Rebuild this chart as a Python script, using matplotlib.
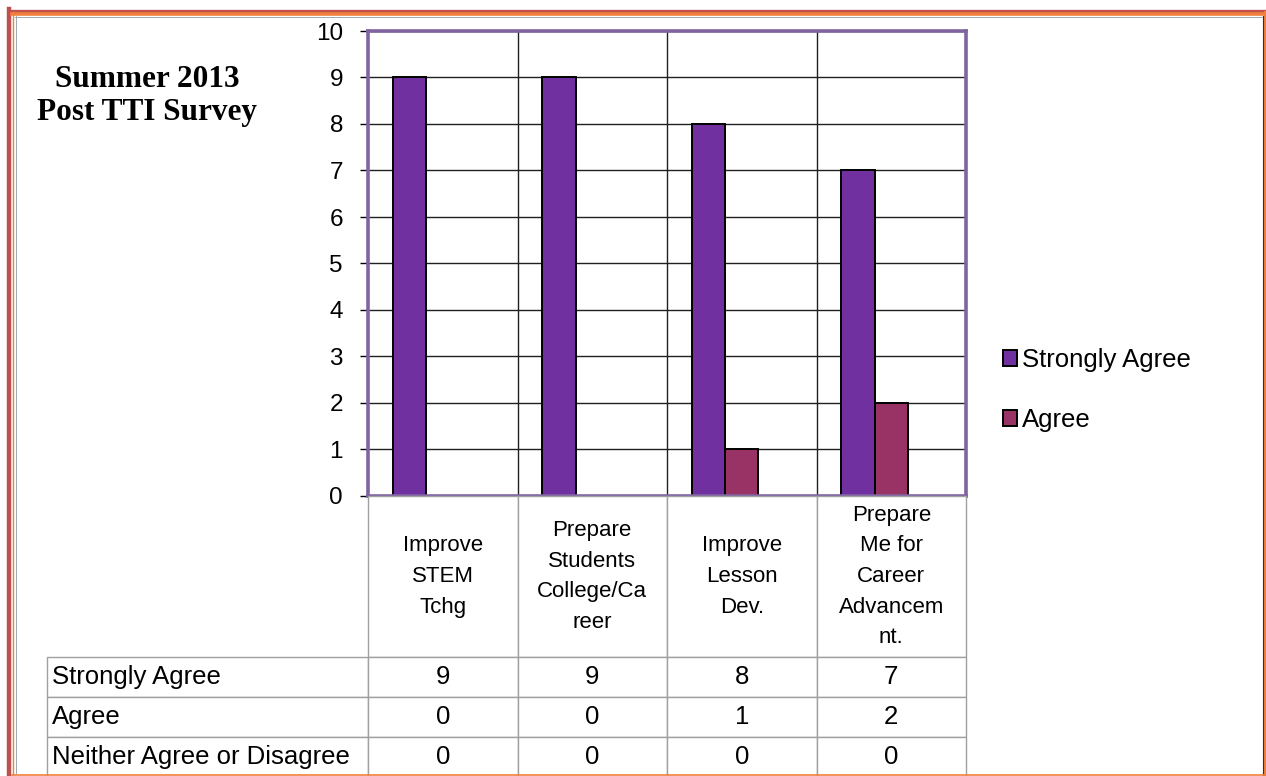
import numpy as np
import matplotlib
matplotlib.use('Agg')
import matplotlib.pyplot as plt
from matplotlib.lines import Line2D

plt.rcParams['font.family'] = ['Liberation Sans', 'DejaVu Sans']

# survey results
categories = ['Improve\nSTEM\nTchg', 'Prepare\nStudents\nCollege/Ca\nreer',
              'Improve\nLesson\nDev.', 'Prepare\nMe for\nCareer\nAdvancem\nnt.']
series_names = ['Strongly Agree', 'Agree', 'Neither Agree or Disagree']
strongly_agree = [9, 9, 8, 7]
agree = [0, 0, 1, 2]
neither = [0, 0, 0, 0]
series_values = [strongly_agree, agree, neither]
series_colors = ['#7030A0', '#993366', '#CC99FF']

W, H = 1266, 776
def fx(x):
    return x / W
def fy(y):
    return 1 - y / H

fig = plt.figure(figsize=(W / 100, H / 100), dpi=100)

# page frame
frame = [
    ([8.5, 8.5], [9, 776], '#C0504D', 3.2),
    ([9, 1266], [10.5, 10.5], '#C0504D', 2.4),
    ([12.5, 12.5], [12, 776], '#F0803C', 1.0),
    ([12, 1266], [14, 14], '#F0803C', 2.6),
    ([1264.5, 1264.5], [12, 776], '#F0803C', 2.2),
    ([1262.5, 1262.5], [16, 776], '#303030', 0.8),
    ([12, 1266], [774.5, 774.5], '#F0803C', 1.2),
    ([15.5, 15.5], [16, 773], '#A0A8B0', 0.7),
    ([15, 1262], [16.5, 16.5], '#A0A8B0', 0.7),
]
for xs, ys, c, lw in frame:
    fig.add_artist(Line2D([fx(v) for v in xs], [fy(v) for v in ys],
                          color=c, lw=lw, transform=fig.transFigure))

ax = fig.add_axes([fx(368), fy(496), fx(966) - fx(368), fy(31) - fy(496)])

n_series = len(series_values)
w = 1 / (n_series + 1.5)
x = np.arange(len(categories))
handles = []
for k, (vals, name, col) in enumerate(zip(series_values, series_names, series_colors)):
    b = ax.bar(x + 0.75 * w + k * w, vals, width=w, align='edge', color=col,
               edgecolor='black', linewidth=1.4, zorder=3, label=name)
    handles.append(b)

ax.set_xlim(0, len(categories))
ax.set_ylim(0, 10)
ax.set_yticks(range(0, 11))
ax.set_xticks(range(1, len(categories)))
ax.set_xticklabels([])
ax.tick_params(axis='x', length=0)
ax.tick_params(axis='y', labelsize=17.5, length=6, width=1, pad=12, color='black')
ax.grid(True, color='#202020', linewidth=1.0, zorder=1)
ax.set_axisbelow(True)
for sp in ax.spines.values():
    sp.set_color('#8064A2')
    sp.set_linewidth(2.6)
    sp.set_zorder(5)

fig.text(fx(147), fy(96), 'Summer 2013\nPost TTI Survey', ha='center', va='center',
         family='Liberation Serif', weight='bold', fontsize=22.5, linespacing=1.22)

fig.legend(handles[:2], series_names[:2], loc='center left',
           bbox_to_anchor=(fx(1003), fy(390)), frameon=False, fontsize=18.5,
           handlelength=0.55, handleheight=0.55, handletextpad=0.2,
           labelspacing=1.4, borderpad=0, borderaxespad=0)

# data table under the plot
tax = fig.add_axes([fx(47), fy(777), fx(966) - fx(47), fy(496) - fy(777)])
tax.axis('off')
cell_text = [[''] + categories]
for name, vals in zip(series_names, series_values):
    cell_text.append([name] + [str(v) for v in vals])
first_w = 321
col_w = [first_w] + [149.5] * len(categories)
col_w = [c / sum(col_w) for c in col_w]
tbl = tax.table(cellText=cell_text, colWidths=col_w, bbox=[0, 0, 1, 1], cellLoc='center')
tbl.auto_set_font_size(False)
tbl.set_fontsize(18.5)
row_h = [161, 40, 40, 40]
for (r, c), cell in tbl.get_celld().items():
    cell.set_height(row_h[r])
    cell.set_edgecolor('#A0A0A0')
    cell.set_linewidth(1.0)
    if r == 0:
        cell.get_text().set_fontsize(16)
        cell.get_text().set_linespacing(1.6)
    if r == 0 and c == 0:
        cell.visible_edges = ''
    if c == 0 and r > 0:
        cell.PAD = 5 / first_w
        cell.get_text().set_ha('left')
        cell._loc = 'left'

fig.savefig('out.png', dpi=100)
